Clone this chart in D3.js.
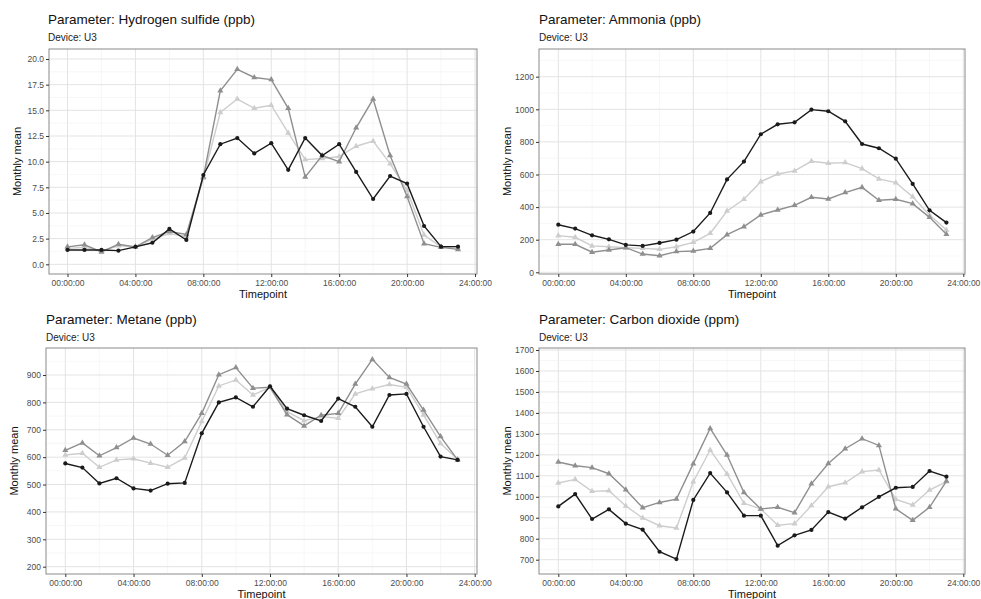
<!DOCTYPE html>
<html>
<head>
<meta charset="utf-8">
<script src="https://cdn.jsdelivr.net/npm/d3@7"></script>
<style>
  body { margin: 0; background: #fff; }
  svg { font-family: "Liberation Sans", Arial, sans-serif; }
  .tick text { fill: #4d4d4d; font-size: 8.5px; }
  .tick line { stroke: #333; }
</style>
</head>
<body>
<svg id="mainFrame" width="981" height="599"></svg>
<script>
// hours of the day
const hours = d3.range(0, 24);
const xTickHours = [0, 4, 8, 12, 16, 20, 24];
const xTickLabels = ['00:00:00', '04:00:00', '08:00:00', '12:00:00', '16:00:00', '20:00:00', '24:00:00'];

// Hydrogen sulfide (ppb)
const h2sBlack = [1.4, 1.4, 1.4, 1.33, 1.7, 2.1, 3.45, 2.37, 8.7, 11.7, 12.3, 10.8, 11.8, 9.2, 12.3, 10.6, 11.7, 9.0, 6.36, 8.6, 7.86, 3.73, 1.72, 1.72];
const h2sDark = [1.7, 1.9, 1.2, 1.95, 1.7, 2.6, 3.2, 2.9, 8.5, 16.9, 19.0, 18.2, 18.0, 15.2, 8.5, 10.6, 10.0, 13.3, 16.1, 10.6, 6.6, 2.0, 1.65, 1.45];
const h2sLight = [1.55, 1.65, 1.3, 1.8, 1.7, 2.45, 3.0, 2.7, 8.4, 14.8, 16.1, 15.2, 15.5, 12.8, 10.2, 10.3, 10.5, 11.5, 12.0, 9.8, 7.2, 2.85, 1.7, 1.55];
const h2sTicks = [0, 2.5, 5, 7.5, 10, 12.5, 15, 17.5, 20];

// Ammonia (ppb)
const nh3Black = [292, 268, 227, 202, 168, 162, 180, 200, 250, 364, 570, 679, 847, 908, 920, 998, 988, 926, 787, 761, 697, 542, 380, 305];
const nh3Dark = [172, 172, 123, 137, 151, 112, 102, 127, 131, 147, 231, 280, 352, 382, 411, 460, 450, 489, 521, 442, 448, 421, 337, 233];
const nh3Light = [225, 215, 162, 157, 151, 147, 141, 157, 184, 239, 376, 448, 556, 603, 622, 681, 669, 673, 636, 573, 550, 464, 352, 260];
const nh3Ticks = [0, 200, 400, 600, 800, 1000, 1200];

// Metane (ppb)
const ch4Black = [577, 562, 504, 523, 486, 478, 503, 506, 687, 800, 818, 784, 859, 777, 753, 732, 814, 784, 711, 827, 831, 711, 602, 590];
const ch4Dark = [625, 652, 605, 635, 670, 648, 607, 657, 760, 901, 927, 852, 855, 755, 714, 753, 760, 867, 957, 891, 867, 772, 675, 590];
const ch4Light = [608, 614, 563, 590, 594, 578, 563, 597, 730, 860, 882, 827, 855, 766, 733, 748, 742, 831, 850, 865, 855, 754, 650, 592];
const ch4Ticks = [200, 300, 400, 500, 600, 700, 800, 900];

// Carbon dioxide (ppm)
const co2Black = [954, 1013, 894, 940, 872, 843, 738, 703, 985, 1113, 1021, 910, 910, 767, 816, 842, 927, 896, 950, 1000, 1043, 1047, 1123, 1096];
const co2Dark = [1166, 1148, 1139, 1110, 1034, 948, 973, 989, 1158, 1326, 1199, 1020, 942, 950, 924, 1062, 1159, 1229, 1277, 1245, 943, 888, 950, 1075];
const co2Light = [1066, 1083, 1026, 1029, 956, 899, 862, 851, 1072, 1223, 1109, 969, 942, 864, 872, 958, 1048, 1067, 1120, 1128, 988, 961, 1032, 1072];
const co2Ticks = [700, 800, 900, 1000, 1100, 1200, 1300, 1400, 1500, 1600, 1700];

const svg = d3.select('#mainFrame');

const panels = [
    { title: 'Parameter: Hydrogen sulfide (ppb)', series: [h2sLight, h2sDark, h2sBlack], ticks: h2sTicks,
      fmt: d3.format('.1f'), box: [49, 49, 477, 274], xr: [67.5, 475], yd: [0, 20], yr: [264.3, 59], tx: 48, ty: 0 },
    { title: 'Parameter: Ammonia (ppb)', series: [nh3Light, nh3Dark, nh3Black], ticks: nh3Ticks,
      fmt: d3.format('d'), box: [539, 49, 965, 274], xr: [558.3, 963.3], yd: [0, 1200], yr: [272.3, 76.7], tx: 539, ty: 0 },
    { title: 'Parameter: Metane (ppb)', series: [ch4Light, ch4Dark, ch4Black], ticks: ch4Ticks,
      fmt: d3.format('d'), box: [46, 348, 477, 574], xr: [65.3, 474.7], yd: [200, 900], yr: [566.7, 375], tx: 46, ty: 300 },
    { title: 'Parameter: Carbon dioxide (ppm)', series: [co2Light, co2Dark, co2Black], ticks: co2Ticks,
      fmt: d3.format('d'), box: [539, 348, 965, 574], xr: [558.3, 963.3], yd: [700, 1700], yr: [559.7, 350], tx: 539, ty: 300 }
];

const colors = ['#cdcdcd', '#8f8f8f', '#1a1a1a'];

const render = p => {
    const [x0, y0, x1, y1] = p.box;
    const xScale = d3.scaleLinear().domain([0, 24]).range(p.xr);
    const yScale = d3.scaleLinear().domain(p.yd).range(p.yr);

    const g = svg.append('g');

    // minor + major grid, only what falls inside the panel
    const xStep = 2;
    const xGrid = d3.range(-2, 27, xStep).filter(h => xScale(h) > x0 && xScale(h) < x1);
    const yStep = (p.ticks[1] - p.ticks[0]) / 2;
    const yGrid = d3.range(p.ticks[0] - 2 * yStep, p.ticks[p.ticks.length - 1] + 3 * yStep, yStep)
        .filter(v => yScale(v) > y0 && yScale(v) < y1);

    g.selectAll('.vgrid').data(xGrid).enter().append('line')
        .attr('x1', d => xScale(d)).attr('x2', d => xScale(d))
        .attr('y1', y0).attr('y2', y1)
        .attr('stroke', (d, i) => d % 4 === 0 ? '#e3e3e3' : '#f1f1f1')
        .attr('stroke-width', (d, i) => d % 4 === 0 ? 1 : 0.6);

    g.selectAll('.hgrid').data(yGrid).enter().append('line')
        .attr('x1', x0).attr('x2', x1)
        .attr('y1', d => yScale(d)).attr('y2', d => yScale(d))
        .attr('stroke', (d, i) => Math.round((d - p.ticks[0]) / yStep) % 2 === 0 ? '#e3e3e3' : '#f1f1f1')
        .attr('stroke-width', (d, i) => Math.round((d - p.ticks[0]) / yStep) % 2 === 0 ? 1 : 0.6);

    // lines and points
    const line = d3.line().x((d, i) => xScale(hours[i])).y(d => yScale(d));
    p.series.forEach((s, k) => {
        g.append('path').datum(s)
            .attr('d', line)
            .attr('fill', 'none')
            .attr('stroke', colors[k])
            .attr('stroke-width', 1.4);
        if (k === 2) {
            g.selectAll(null).data(s).enter().append('circle')
                .attr('cx', (d, i) => xScale(hours[i]))
                .attr('cy', d => yScale(d))
                .attr('r', 2.1)
                .attr('fill', colors[k]);
        } else {
            const tri = d3.symbol().type(d3.symbolTriangle).size(16);
            g.selectAll(null).data(s).enter().append('path')
                .attr('d', tri)
                .attr('transform', (d, i) => `translate(${xScale(hours[i])},${yScale(d)})`)
                .attr('fill', colors[k]);
        }
    });

    // panel border
    g.append('rect')
        .attr('x', x0).attr('y', y0)
        .attr('width', x1 - x0).attr('height', y1 - y0)
        .attr('fill', 'none')
        .attr('stroke', '#8a8a8a')
        .attr('stroke-width', 1);

    // axes
    const xAxis = d3.axisBottom(xScale)
        .tickValues(xTickHours)
        .tickFormat((d, i) => xTickLabels[i])
        .tickSize(3)
        .tickPadding(3);
    g.append('g').attr('transform', `translate(0,${y1})`).call(xAxis)
        .call(a => a.select('.domain').remove());

    const yAxis = d3.axisLeft(yScale)
        .tickValues(p.ticks)
        .tickFormat(p.fmt)
        .tickSize(3)
        .tickPadding(2);
    g.append('g').attr('transform', `translate(${x0},0)`).call(yAxis)
        .call(a => a.select('.domain').remove());

    // texts
    g.append('text').text(p.title)
        .attr('x', p.tx).attr('y', p.ty + 24)
        .attr('font-size', 13.5).attr('fill', '#111');
    g.append('text').text('Device: U3')
        .attr('x', p.tx).attr('y', p.ty + 41)
        .attr('font-size', 10).attr('fill', '#222');
    g.append('text').text('Timepoint')
        .attr('x', (x0 + x1) / 2).attr('y', y1 + 24)
        .attr('text-anchor', 'middle')
        .attr('font-size', 11).attr('fill', '#111');
    g.append('text').text('Monthly mean')
        .attr('transform', `translate(${x0 - 28},${(y0 + y1) / 2}) rotate(-90)`)
        .attr('text-anchor', 'middle')
        .attr('font-size', 11).attr('fill', '#111');
};

panels.forEach(render);
</script>
</body>
</html>
